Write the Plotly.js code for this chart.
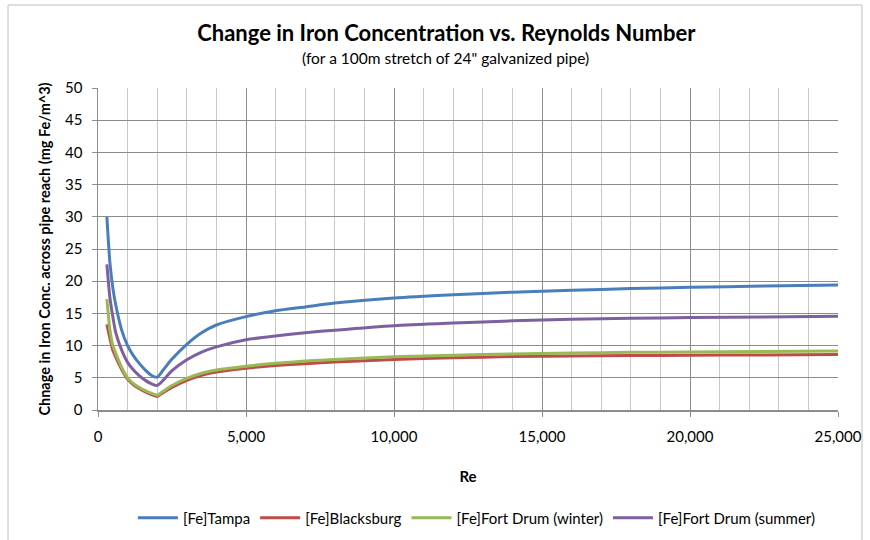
<!DOCTYPE html>
<html>
<head>
<meta charset="utf-8">
<script src="https://cdn.plot.ly/plotly-3.0.1.min.js"></script>
<style>html,body{margin:0;padding:0;background:#fff;}#chart{width:870px;height:540px;}</style>
</head>
<body>
<div id="chart"></div>
<script>
const reynolds = [300, 400, 500, 600, 800, 1000, 1200, 1400, 1600, 1800, 2000, 2200, 2500, 3000, 3500, 4000, 5000, 6000, 7000, 8000, 10000, 12000, 14000, 16000, 18000, 20000, 22500, 25000];
const feTampa = [30, 23, 19, 16.3, 12.4, 10.0, 8.4, 7.2, 6.2, 5.4, 5.1, 6.2, 7.9, 10.2, 12.0, 13.2, 14.5, 15.4, 16.0, 16.6, 17.4, 17.9, 18.3, 18.6, 18.85, 19.05, 19.25, 19.4];
const feBlacksburg = [13.3, 11.2, 9.3, 8.2, 6.3, 4.8, 3.9, 3.3, 2.8, 2.4, 2.1, 2.7, 3.5, 4.6, 5.4, 5.9, 6.5, 6.9, 7.2, 7.45, 7.85, 8.1, 8.3, 8.4, 8.45, 8.5, 8.55, 8.6];
const feFortDrumWinter = [17.2, 12.5, 10.0, 8.8, 6.6, 5.0, 4.1, 3.5, 3.0, 2.6, 2.3, 2.9, 3.8, 4.9, 5.7, 6.2, 6.8, 7.25, 7.6, 7.85, 8.25, 8.5, 8.7, 8.85, 8.95, 9.0, 9.1, 9.15];
const feFortDrumSummer = [22.6, 17.5, 14.5, 12.0, 9.3, 7.4, 6.2, 5.3, 4.6, 4.1, 3.8, 4.6, 6.1, 7.8, 9.0, 9.8, 10.9, 11.5, 12.0, 12.4, 13.1, 13.5, 13.85, 14.1, 14.25, 14.35, 14.45, 14.55];
const seriesNames = ["[Fe]Tampa", "[Fe]Blacksburg", "[Fe]Fort Drum (winter)", "[Fe]Fort Drum (summer)"];
const seriesColors = ["#4a7ebb", "#be4b48", "#98b954", "#7d60a0"];
const seriesValues = [feTampa, feBlacksburg, feFortDrumWinter, feFortDrumSummer];
const chartTitle = "Change in Iron Concentration vs. Reynolds Number";
const chartSubtitle = "(for a 100m stretch of 24\" galvanized pipe)";

const FONT = "Lato, 'Open Sans', sans-serif";
const traces = seriesValues.map((vals, i) => ({
  x: reynolds, y: vals, name: seriesNames[i], type: "scatter", mode: "lines",
  line: {color: seriesColors[i], width: 3, shape: "spline", smoothing: 0.6}
}));

const layout = {
  width: 870, height: 540,
  margin: {l: 98, r: 32, t: 88, b: 130, autoexpand: false},
  paper_bgcolor: "#fff", plot_bgcolor: "#fff",
  font: {family: FONT, color: "#000", size: 15},
  title: {
    text: "<b>" + chartTitle + "</b>",
    x: 0.513, xanchor: "center", yref: "container", y: 1 - 33 / 540, yanchor: "middle",
    font: {family: FONT, size: 22, color: "#000"}
  },
  annotations: [{
    text: chartSubtitle, xref: "paper", yref: "paper",
    x: (445 - 98) / 740, y: (410 - 58) / 322, xanchor: "center", yanchor: "middle",
    showarrow: false, font: {family: FONT, size: 15.5, color: "#000"}
  }],
  showlegend: true,
  legend: {orientation: "h", x: 0.512, xanchor: "center", yref: "container", y: (540 - 518) / 540, yanchor: "middle",
    font: {family: FONT, size: 15}, itemwidth: 40, tracegroupgap: 0},
  xaxis: {
    range: [0, 25000], dtick: 5000, tickformat: ",d", automargin: false,
    showgrid: true, gridcolor: "#8c8c8c", gridwidth: 1,
    minor: {dtick: 1000, showgrid: true, gridcolor: "#c8c8c8", gridwidth: 1},
    showline: true, linecolor: "#8c8c8c", linewidth: 1.5,
    ticks: "outside", ticklen: 5, tickcolor: "#8c8c8c",
    zeroline: false, ticklabelstandoff: 7,
    tickfont: {family: FONT, size: 15},
    title: {text: "<b>Re</b>", font: {family: FONT, size: 15}, standoff: 28}
  },
  yaxis: {
    range: [0, 50], dtick: 5, automargin: false,
    showgrid: true, gridcolor: "#8c8c8c", gridwidth: 1,
    showline: true, linecolor: "#8c8c8c", linewidth: 1.5,
    ticks: "outside", ticklen: 5, tickcolor: "#8c8c8c",
    zeroline: false, ticklabelstandoff: 6,
    tickfont: {family: FONT, size: 15},
    title: {text: "<b>Chnage in Iron Conc. across pipe reach (mg Fe/m^3)</b>", font: {family: FONT, size: 14.5}, standoff: 11}
  },
  shapes: [{
    type: "rect", xref: "paper", yref: "paper",
    x0: -0.1216, x1: 1.0324, y0: -0.45, y1: 1.2578,
    line: {color: "#bfbfbf", width: 1}, fillcolor: "rgba(0,0,0,0)", layer: "below"
  }]
};

Plotly.newPlot("chart", traces, layout, {displayModeBar: false, staticPlot: true});
</script>
</body>
</html>
